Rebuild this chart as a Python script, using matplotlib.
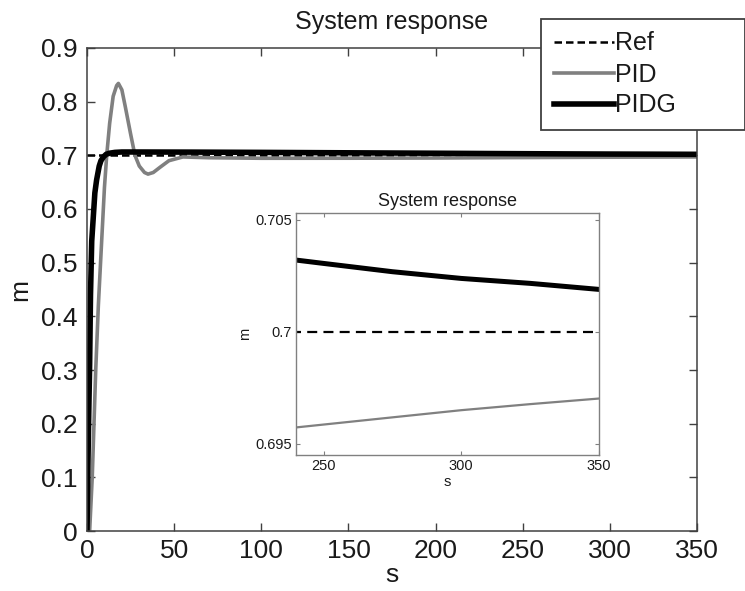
import numpy as np
import matplotlib
matplotlib.use('Agg')
import matplotlib.pyplot as plt
from matplotlib.ticker import FormatStrFormatter

plt.rcParams['font.family'] = ['Liberation Sans', 'DejaVu Sans']

# ========== data ==========
# reference value
ref_s = [0, 350]
ref_m = [0.7, 0.7]

# PID response (gray)
pid_s = [0, 1.5, 3, 4, 5, 6.5, 8.4, 10, 11.3, 13, 15, 17, 18, 20, 22, 25, 27.5,
         30, 33, 35, 38, 42, 47, 55, 70, 100, 150, 200, 240, 275, 300, 325, 350]
pid_m = [0, 0, 0.1, 0.2, 0.3, 0.42, 0.54, 0.64, 0.70, 0.76, 0.81, 0.83, 0.834,
         0.822, 0.79, 0.74, 0.70, 0.68, 0.668, 0.665, 0.668, 0.678, 0.69, 0.697,
         0.6955, 0.6945, 0.6946, 0.6950, 0.69573, 0.69618, 0.69650, 0.69677, 0.69702]

# PIDG response (black)
pidg_s = [0, 0.5, 1, 1.5, 2, 2.7, 3.5, 4.5, 5.5, 7, 8, 9.4, 11, 13, 16, 20, 30,
          60, 100, 150, 200, 240, 250, 275, 300, 325, 350]
pidg_m = [0, 0.12, 0.22, 0.31, 0.44, 0.54, 0.58, 0.63, 0.654, 0.680, 0.690,
          0.697, 0.702, 0.704, 0.7055, 0.7062, 0.7062, 0.7060, 0.7055, 0.7047,
          0.7039, 0.70320, 0.70305, 0.70268, 0.70238, 0.70216, 0.70189]

x_ticks = [0, 50, 100, 150, 200, 250, 300, 350]
y_ticks = [0, 0.1, 0.2, 0.3, 0.4, 0.5, 0.6, 0.7, 0.8, 0.9]
inset_x_ticks = [250, 300, 350]
inset_y_ticks = [0.695, 0.7, 0.705]

gray = '#808080'
spine_col = '#404040'
text_col = '#1a1a1a'

# ========== figure ==========
fig = plt.figure(figsize=(7.45, 5.91), dpi=100)
ax = fig.add_axes([0.1168, 0.1015, 0.8188, 0.8173])

ax.plot(ref_s, ref_m, color='black', lw=1.8, dashes=(3, 1.6), label='Ref')
ax.plot(pid_s, pid_m, color=gray, lw=2.6, label='PID')
ax.plot(pidg_s, pidg_m, color='black', lw=4.0, label='PIDG')

ax.set_xlim(0, 350)
ax.set_ylim(0, 0.9)
ax.set_xticks(x_ticks)
ax.set_yticks(y_ticks)
ax.yaxis.set_major_formatter(FormatStrFormatter('%g'))
ax.tick_params(direction='in', length=6, width=1, colors=spine_col,
               labelcolor=text_col, labelsize=19, top=True, right=True)
ax.tick_params(axis='y', pad=7)
ax.tick_params(axis='x', pad=6)
for sp in ax.spines.values():
    sp.set_color(spine_col)
    sp.set_linewidth(1.1)
ax.set_title('System response', fontsize=18, pad=14, color=text_col)
ax.set_xlabel('s', fontsize=19, labelpad=0, color=text_col)
ax.set_ylabel('m', fontsize=19, labelpad=6, color=text_col)

# legend in the top-right corner, box stretched to the figure edge
leg = ax.legend(loc='upper left',
                bbox_to_anchor=(541 / 745, 1 - 19 / 591 - 0.01, 204 / 745, 0.01),
                bbox_transform=fig.transFigure, mode='expand', borderaxespad=0,
                fontsize=18, handlelength=2.4, handletextpad=0.05, borderpad=0.5,
                labelspacing=0.28, fancybox=False, framealpha=1)
leg.get_frame().set_edgecolor(spine_col)
leg.get_frame().set_linewidth(1.3)
for t in leg.get_texts():
    t.set_color(text_col)

# ========== inset ==========
ins = fig.add_axes([296 / 745, 1 - 455 / 591, 303 / 745, 242 / 591])
ins.plot(ref_s, ref_m, color='black', lw=1.6, dashes=(4.5, 2.8))
ins.plot(pid_s, pid_m, color=gray, lw=1.6)
ins.plot(pidg_s, pidg_m, color='black', lw=3.6)
ins.set_xlim(240, 350)
ins.set_ylim(0.6945, 0.7053)
ins.set_xticks(inset_x_ticks)
ins.set_yticks(inset_y_ticks)
ins.yaxis.set_major_formatter(FormatStrFormatter('%g'))
ins.tick_params(direction='in', length=3, width=0.8, colors=gray,
                labelcolor=text_col, labelsize=10.5, top=True, right=True, pad=3)
for sp in ins.spines.values():
    sp.set_color(gray)
    sp.set_linewidth(1.0)
ins.set_title('System response', fontsize=13, pad=5, color=text_col)
ins.set_xlabel('s', fontsize=10.5, labelpad=1, color=text_col)
ins.set_ylabel('m', fontsize=10.5, labelpad=2, color=text_col)

fig.savefig('out.png', dpi=100)
